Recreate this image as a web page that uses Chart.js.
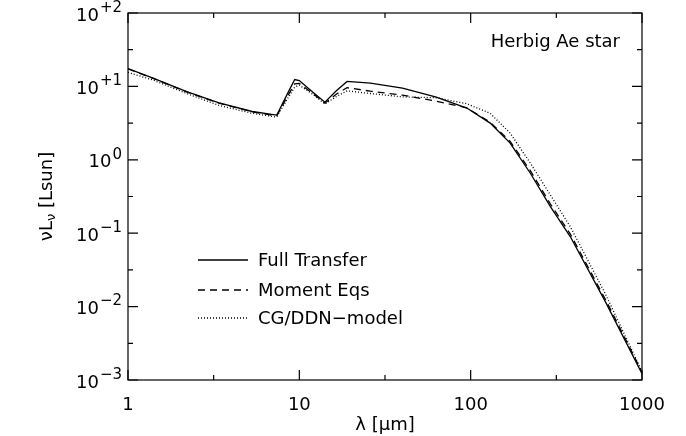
<!DOCTYPE html>
<html>
<head>
<meta charset="utf-8">
<script src="https://cdn.jsdelivr.net/npm/chart.js@4.4.1/dist/chart.umd.min.js"></script>
<style>
  html, body { margin: 0; padding: 0; background: #fff; }
  #wrap { width: 686px; height: 436px; }
</style>
</head>
<body>
<div id="wrap"><canvas id="sed"></canvas></div>
<script>
// wavelengths (micron) and nuL_nu (Lsun)
var lam          = [1, 1.4, 2.2, 3.4, 5.3, 7.2, 7.4, 8.6, 9.4, 10, 12, 14.1, 16.5, 19, 26, 40, 63, 95, 130, 170, 223, 292, 382, 612, 1000];
var fullTransfer = [17.5, 13.0, 8.5, 5.95, 4.55, 4.1, 4.1, 8.3, 12.4, 12.0, 8.3, 6.1, 8.8, 11.7, 11.1, 9.5, 7.16, 5.07, 3.16, 1.69, 0.656, 0.23, 0.0894, 0.0116, 0.00122];
var momentEqs    = [17.3, 12.9, 8.4, 5.9, 4.5, 4.0, 4.0, 7.6, 10.8, 11.0, 8.0, 5.9, 7.9, 9.6, 8.6, 7.6, 6.3, 5.1, 3.25, 1.78, 0.71, 0.25, 0.097, 0.0125, 0.00128];
var cgDdn        = [15.5, 12.2, 8.0, 5.5, 4.3, 3.85, 3.9, 7.0, 9.8, 10.4, 7.8, 5.75, 7.3, 8.7, 8.0, 7.2, 7.0, 5.8, 4.3, 2.31, 0.9, 0.331, 0.122, 0.0148, 0.0013];

var xMajor = [1, 10, 100, 1000];
var xMinor = [3.162, 31.62, 316.2];
var xLabels = ['1', '10', '100', '1000'];
var yMajor = [1e-3, 1e-2, 1e-1, 1, 10, 100];
var yMinor = [3.162e-3, 3.162e-2, 0.3162, 3.162, 31.62];
var yExp = ['\u22123', '\u22122', '\u22121', '0', '+1', '+2'];

var FONT = '"DejaVu Sans", sans-serif';

function pts(ys) {
    return lam.map(function (x, i) { return { x: x, y: ys[i] }; });
}

// IDL style box, inward ticks, superscript labels, legend in plot
var idlAxes = {
    id: 'idlAxes',
    afterDraw: function (chart) {
        var ctx = chart.ctx, a = chart.chartArea;
        var xs = chart.scales.x, ys = chart.scales.y;
        ctx.save();
        ctx.strokeStyle = '#000';
        ctx.fillStyle = '#000';
        ctx.lineWidth = 1.2;
        ctx.strokeRect(a.left, a.top, a.right - a.left, a.bottom - a.top);

        ctx.beginPath();
        xMajor.concat(xMinor).forEach(function (v) {
            var len = xMajor.indexOf(v) >= 0 ? 10 : 5;
            var px = xs.getPixelForValue(v);
            ctx.moveTo(px, a.bottom); ctx.lineTo(px, a.bottom - len);
            ctx.moveTo(px, a.top); ctx.lineTo(px, a.top + len);
        });
        yMajor.concat(yMinor).forEach(function (v) {
            var len = yMajor.indexOf(v) >= 0 ? 10 : 5;
            var py = ys.getPixelForValue(v);
            ctx.moveTo(a.left, py); ctx.lineTo(a.left + len, py);
            ctx.moveTo(a.right, py); ctx.lineTo(a.right - len, py);
        });
        ctx.stroke();

        // x tick labels
        ctx.font = '18px ' + FONT;
        ctx.textAlign = 'center';
        ctx.textBaseline = 'middle';
        xMajor.forEach(function (v, i) {
            ctx.fillText(xLabels[i], xs.getPixelForValue(v), 405);
        });

        // y tick labels 10^n
        yMajor.forEach(function (v, i) {
            var py = ys.getPixelForValue(v);
            ctx.font = '15px ' + FONT;
            var ew = ctx.measureText(yExp[i]).width;
            ctx.textAlign = 'right';
            ctx.fillText(yExp[i], 122, py - 5);
            ctx.font = '18px ' + FONT;
            ctx.fillText('10', 122 - ew - 1, py + 3);
        });

        // x title
        ctx.font = '18px ' + FONT;
        ctx.textAlign = 'center';
        ctx.fillText('\u03bb [\u03bcm]', (a.left + a.right) / 2, 425);

        // y title, rotated
        ctx.save();
        ctx.translate(47, (a.top + a.bottom) / 2);
        ctx.rotate(-Math.PI / 2);
        ctx.textAlign = 'left';
        ctx.font = '18px ' + FONT;
        var p1 = '\u03bdL', p3 = ' [Lsun]';
        ctx.font = '13px ' + FONT;
        var w2 = ctx.measureText('\u03bd').width;
        ctx.font = '18px ' + FONT;
        var w1 = ctx.measureText(p1).width, w3 = ctx.measureText(p3).width;
        var x0 = -(w1 + w2 + w3) / 2;
        ctx.fillText(p1, x0, 0);
        ctx.font = '13px ' + FONT;
        ctx.fillText('\u03bd', x0 + w1, 5);
        ctx.font = '18px ' + FONT;
        ctx.fillText(p3, x0 + w1 + w2, 0);
        ctx.restore();

        // annotation
        ctx.textAlign = 'right';
        ctx.fillText('Herbig Ae star', 620, 42);

        // legend
        var rowY = [260, 290, 318];
        ctx.textAlign = 'left';
        chart.data.datasets.forEach(function (ds, i) {
            ctx.beginPath();
            ctx.setLineDash(ds.borderDash || []);
            ctx.lineWidth = ds.borderWidth;
            ctx.moveTo(198, rowY[i]); ctx.lineTo(248, rowY[i]);
            ctx.stroke();
            ctx.setLineDash([]);
            ctx.fillText(ds.label, 258, rowY[i] + 1);
        });
        ctx.restore();
    }
};

new Chart(document.getElementById('sed').getContext('2d'), {
    type: 'line',
    data: {
        datasets: [{
            label: 'Full Transfer',
            data: pts(fullTransfer),
            borderColor: '#000',
            borderWidth: 1.3,
            pointRadius: 0,
            tension: 0
        }, {
            label: 'Moment Eqs',
            data: pts(momentEqs),
            borderColor: '#000',
            borderWidth: 1.3,
            borderDash: [7, 5],
            pointRadius: 0,
            tension: 0
        }, {
            label: 'CG/DDN\u2212model',
            data: pts(cgDdn),
            borderColor: '#000',
            borderWidth: 1.3,
            borderDash: [1, 2],
            pointRadius: 0,
            tension: 0
        }]
    },
    options: {
        responsive: true,
        maintainAspectRatio: false,
        animation: false,
        devicePixelRatio: 1,
        layout: { padding: { left: 128, top: 13, right: 44, bottom: 56 } },
        plugins: { legend: { display: false }, tooltip: { enabled: false } },
        scales: {
            x: { type: 'logarithmic', min: 1, max: 1000, display: false },
            y: { type: 'logarithmic', min: 1e-3, max: 100, display: false }
        }
    },
    plugins: [idlAxes]
});
</script>
</body>
</html>
